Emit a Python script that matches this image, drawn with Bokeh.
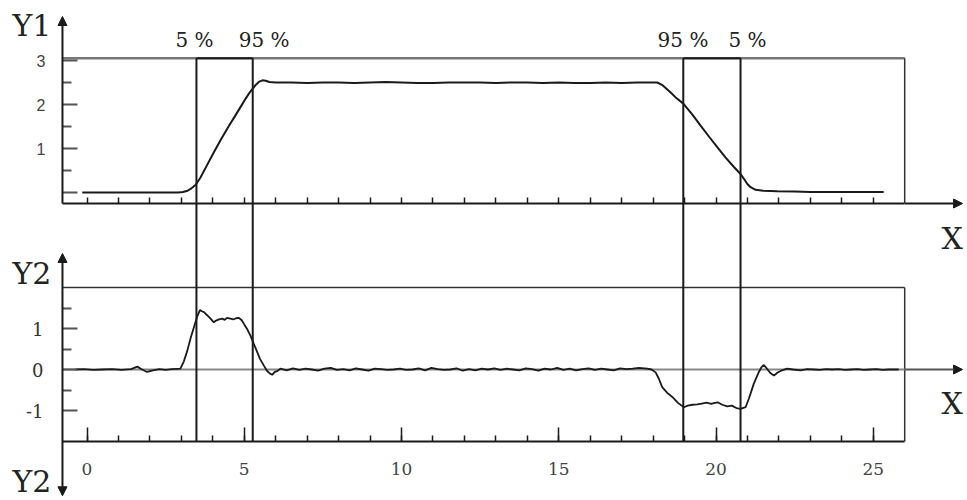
from bokeh.plotting import figure
from bokeh.models import (Range1d, LinearAxis, FixedTicker, Arrow, NormalHead, Label,
                          CustomJSTickFormatter)
from bokeh.embed import file_html
from bokeh.resources import INLINE

# ---------------- data ----------------
x_major_ticks = [0, 5, 10, 15, 20, 25]
x_all_ticks = list(range(0, 26))
x_tick_labels = ["0", "5", "10", "15", "20", "25"]

y1_ticks = [0, 1, 2, 3]
y1_minor = [0.5, 1.5, 2.5]
y1_tick_labels = ["", "1", "2", "3"]
y2_ticks = [-1, 0, 1]
y2_minor = [-0.5, 0.5, 1.5]
y2_tick_labels = ["-1", "0", "1"]

x_end = 26.0          # right edge of both boxes
y1_box_top = 3.05     # top edge of upper box
y2_box_top = 2.0      # top edge of lower box

thresholds_x = [3.48, 5.27, 18.96, 20.78]
threshold_labels = ["5 %", "95 %", "95 %", "5 %"]
threshold_label_x = [3.42, 5.63, 18.95, 21.0]

y1_x = [-0.15, 1.0, 2.0, 2.9, 3.05, 3.2, 3.33, 3.45, 3.6, 3.8, 4.0, 4.24, 4.5, 4.7, 4.88,
        5.05, 5.17, 5.27, 5.37, 5.48, 5.58, 5.68, 5.8, 6.0, 6.5, 7.0, 7.5, 8.0, 8.5, 9.0,
        9.5, 10.0, 10.5, 11.0, 11.5, 12.0, 12.5, 13.0, 13.5, 14.0, 14.5, 15.0, 15.5, 16.0,
        16.5, 17.0, 17.5, 17.9, 18.13, 18.3, 18.55, 18.75, 18.96, 19.25, 19.51, 19.8,
        20.04, 20.3, 20.57, 20.78, 20.9, 20.99, 21.1, 21.26, 21.5, 21.95, 22.5, 23.0,
        24.0, 25.33]
y1_v = [0.0, 0.0, 0.0, 0.0, 0.01, 0.04, 0.1, 0.17, 0.33, 0.6, 0.87, 1.18, 1.5, 1.73, 1.94,
        2.14, 2.27, 2.36, 2.45, 2.52, 2.55, 2.54, 2.51, 2.50, 2.50, 2.49, 2.50, 2.50, 2.49,
        2.50, 2.51, 2.50, 2.49, 2.49, 2.50, 2.50, 2.50, 2.49, 2.50, 2.50, 2.49, 2.50, 2.49,
        2.49, 2.50, 2.49, 2.50, 2.50, 2.50, 2.44, 2.28, 2.14, 2.02, 1.77, 1.52, 1.25,
        1.03, 0.8, 0.58, 0.42, 0.3, 0.2, 0.12, 0.06, 0.04, 0.03, 0.02, 0.01, 0.01, 0.01]

y2_x = [-0.37, -0.1, 0.2, 0.5, 0.8, 1.1, 1.4, 1.6, 1.75, 1.91, 2.1, 2.3, 2.5, 2.7, 2.97,
        3.08, 3.19, 3.3, 3.4, 3.5, 3.59, 3.65, 3.72, 3.77, 3.85, 3.93, 4.03, 4.12, 4.2,
        4.3, 4.38, 4.45, 4.56, 4.65, 4.74, 4.83, 4.92, 5.0, 5.09, 5.2, 5.3, 5.4, 5.5,
        5.62, 5.72, 5.82, 5.89, 5.97, 6.05, 6.15,
        6.35, 6.55, 6.75, 6.95, 7.15, 7.35, 7.55, 7.75, 7.95, 8.15, 8.35, 8.55, 8.75,
        8.95, 9.15, 9.35, 9.55, 9.75, 9.95, 10.15, 10.35, 10.55, 10.75, 10.95, 11.15,
        11.35, 11.55, 11.75, 11.95, 12.15, 12.35, 12.55, 12.75, 12.95, 13.15, 13.35,
        13.55, 13.75, 13.95, 14.15, 14.35, 14.55, 14.75, 14.95, 15.15, 15.35, 15.55,
        15.75, 15.95, 16.15, 16.35, 16.55, 16.75, 16.95, 17.15, 17.35, 17.55, 17.81,
        17.95, 18.08, 18.18, 18.29, 18.45, 18.61, 18.8, 18.98, 19.1, 19.25, 19.4, 19.55,
        19.7, 19.85, 19.93, 20.05, 20.2, 20.36, 20.5, 20.65, 20.78, 20.94, 21.05, 21.2,
        21.35, 21.45, 21.52, 21.62, 21.72, 21.84, 21.95, 22.1, 22.26, 22.45, 22.69, 22.9,
        23.1, 23.3, 23.5, 23.7, 23.9, 24.1, 24.3, 24.5, 24.7, 24.9, 25.1, 25.3, 25.5,
        25.81]
y2_v = [0.00, 0.01, -0.01, 0.00, 0.01, -0.01, 0.01, 0.07, 0.00, -0.06, -0.02, 0.01, -0.01,
        0.01, 0.02, 0.2, 0.46, 0.78, 1.03, 1.28, 1.45, 1.42, 1.40, 1.36, 1.30, 1.24, 1.15,
        1.20, 1.22, 1.24, 1.21, 1.26, 1.24, 1.22, 1.25, 1.26, 1.20, 1.10, 0.99, 0.82, 0.63,
        0.45, 0.26, 0.10, -0.03, -0.10, -0.13, -0.06, -0.04, 0.02,
        -0.02, 0.03, -0.01, 0.02, 0.00, -0.03, 0.02, 0.04, -0.01, 0.01, -0.02, 0.03, 0.00,
        -0.03, 0.02, 0.01, -0.01, 0.00, 0.02, -0.01, 0.00, 0.03, -0.02, 0.04, 0.01,
        -0.01, 0.00, 0.03, -0.03, 0.01, -0.02, 0.02, 0.00, 0.03, -0.01, 0.02,
        0.00, -0.02, 0.03, 0.01, -0.03, 0.02, 0.00, 0.04, -0.01, 0.02, -0.02,
        0.01, 0.03, -0.01, 0.02, 0.00, -0.02, 0.03, 0.01, 0.02, 0.04, 0.02,
        0.00, -0.07, -0.22, -0.43, -0.57, -0.67, -0.82, -0.92, -0.88, -0.86, -0.85, -0.83,
        -0.81, -0.84, -0.82, -0.80, -0.86, -0.90, -0.88, -0.94, -0.96, -0.92, -0.70, -0.35,
        -0.08, 0.06, 0.11, 0.02, -0.08, -0.15, -0.08, -0.02, 0.02, 0.00, -0.02, 0.01,
        0.00, -0.01, 0.01, 0.00, 0.01, -0.01, 0.00, 0.01, -0.01, 0.00, 0.01, -0.01, 0.00,
        0.00]

# ---------------- geometry ----------------
W, H = 967, 500
X0_PX, XPX = 86.5, 31.45          # px of x=0 from frame left, px per x unit
Y1_ZERO_PX, Y1PX = 192.0, 44.0     # upper panel
Y2_ZERO_PX, Y2PX = 369.0, 41.0     # lower panel

x_range = Range1d(-X0_PX / XPX, (W - X0_PX) / XPX)
y1_range = Range1d((Y1_ZERO_PX - H) / Y1PX, Y1_ZERO_PX / Y1PX)
y2_range = Range1d((Y2_ZERO_PX - H) / Y2PX, Y2_ZERO_PX / Y2PX)


def y2_to_y1(v):
    return (Y1_ZERO_PX - (Y2_ZERO_PX - v * Y2PX)) / Y1PX


YAXIS_X = -0.78       # x position of the vertical axes
Y1_XAXIS = -0.25      # y1 position of upper x axis
Y2_XAXIS = -1.756     # y2 position of lower x axis
ARROW_X1 = 27.84

SERIF = "DejaVu Serif"
SANS = "Liberation Sans"
INK = "#1a1a1a"

p = figure(width=W, height=H, x_range=x_range, y_range=y1_range,
           output_backend="svg", toolbar_location=None,
           x_axis_type=None, y_axis_type=None, min_border=0)
p.extra_y_ranges = {"y2": y2_range}
p.outline_line_color = None
p.background_fill_color = "white"
p.border_fill_color = "white"

empty = CustomJSTickFormatter(code="return ''")

# upper y axis
ay1 = LinearAxis(fixed_location=YAXIS_X, bounds=(0, 3),
                 ticker=FixedTicker(ticks=y1_ticks, minor_ticks=y1_minor),
                 major_label_overrides={t: l for t, l in zip(y1_ticks, y1_tick_labels)},
                 axis_line_color=None,
                 major_tick_in=15, major_tick_out=0, minor_tick_in=9, minor_tick_out=0,
                 major_tick_line_color="#555", major_tick_line_width=2,
                 minor_tick_line_color="#555", minor_tick_line_width=2,
                 major_label_standoff=17,
                 major_label_text_font=SANS, major_label_text_font_size="16px",
                 major_label_text_color="#444")
p.add_layout(ay1, "left")

# upper x axis (ticks only)
ax1 = LinearAxis(fixed_location=Y1_XAXIS, bounds=(YAXIS_X, x_end),
                 ticker=FixedTicker(ticks=x_all_ticks, minor_ticks=[]),
                 formatter=empty,
                 axis_line_color=INK, axis_line_width=2,
                 major_tick_in=6, major_tick_out=0,
                 major_tick_line_color=INK, major_tick_line_width=1.5,
                 minor_tick_line_color=None)
p.add_layout(ax1, "below")

# lower y axis
ay2 = LinearAxis(y_range_name="y2", fixed_location=YAXIS_X, bounds=(-1, 1.5),
                 ticker=FixedTicker(ticks=y2_ticks, minor_ticks=y2_minor),
                 major_label_overrides={t: l for t, l in zip(y2_ticks, y2_tick_labels)},
                 axis_line_color=None,
                 major_tick_in=15, major_tick_out=0, minor_tick_in=9, minor_tick_out=0,
                 major_tick_line_color="#555", major_tick_line_width=2,
                 minor_tick_line_color="#555", minor_tick_line_width=2,
                 major_label_standoff=19,
                 major_label_text_font=SERIF, major_label_text_font_size="18px",
                 major_label_text_color="#333")
p.add_layout(ay2, "left")

# lower x axis
ax2 = LinearAxis(y_range_name="y2", fixed_location=Y2_XAXIS, bounds=(YAXIS_X, x_end),
                 ticker=FixedTicker(ticks=x_major_ticks, minor_ticks=x_all_ticks),
                 major_label_overrides={t: l for t, l in zip(x_major_ticks, x_tick_labels)},
                 axis_line_color=INK, axis_line_width=2,
                 major_tick_in=14, major_tick_out=0, minor_tick_in=6, minor_tick_out=0,
                 major_tick_line_color=INK, major_tick_line_width=1.5,
                 minor_tick_line_color=INK, minor_tick_line_width=1.5,
                 major_label_standoff=22,
                 major_label_text_font=SERIF, major_label_text_font_size="17px",
                 major_label_text_color="#444")
p.add_layout(ax2, "below")

# boxes
p.segment(x0=[YAXIS_X], y0=[y1_box_top], x1=[x_end], y1=[y1_box_top],
          line_color="#777", line_width=2.5)
p.segment(x0=[x_end], y0=[y1_box_top], x1=[x_end], y1=[Y1_XAXIS],
          line_color="#333", line_width=1.5)
p.segment(x0=[YAXIS_X], y0=[y2_box_top], x1=[x_end], y1=[y2_box_top],
          line_color="#333", line_width=1.5, y_range_name="y2")
p.segment(x0=[x_end], y0=[y2_box_top], x1=[x_end], y1=[Y2_XAXIS],
          line_color="#333", line_width=1.5, y_range_name="y2")
# zero line of lower panel
p.segment(x0=[YAXIS_X], y0=[0], x1=[x_end], y1=[0],
          line_color="#888", line_width=2, y_range_name="y2")

# threshold verticals spanning both panels
y_bottom = y2_to_y1(Y2_XAXIS)
p.segment(x0=thresholds_x, y0=[y1_box_top] * 4, x1=thresholds_x, y1=[y_bottom] * 4,
          line_color=INK, line_width=2)
p.segment(x0=thresholds_x[0::2], y0=[y1_box_top] * 2, x1=thresholds_x[1::2],
          y1=[y1_box_top] * 2, line_color=INK, line_width=2)

# curves
p.line(y1_x, y1_v, line_color=INK, line_width=2)
p.line(y2_x, y2_v, line_color=INK, line_width=1.8, y_range_name="y2")

# arrows
def head(c):
    return NormalHead(size=9, fill_color=c, line_color=c, line_width=1)

p.add_layout(Arrow(end=head(INK), x_start=YAXIS_X, y_start=Y1_XAXIS, x_end=YAXIS_X,
                   y_end=4.0, line_color=INK, line_width=2))
p.add_layout(Arrow(end=head(INK), x_start=x_end, y_start=Y1_XAXIS, x_end=ARROW_X1,
                   y_end=Y1_XAXIS, line_color=INK, line_width=2))
p.add_layout(Arrow(start=head(INK), end=head(INK), x_start=YAXIS_X, y_start=-3.08,
                   x_end=YAXIS_X, y_end=2.83, line_color=INK, line_width=2,
                   y_range_name="y2"))
p.add_layout(Arrow(end=head(INK), x_start=x_end, y_start=0, x_end=ARROW_X1,
                   y_end=0, line_color="#555", line_width=2, y_range_name="y2"))

# labels
def lab(text, x, y, align="left", size="30px", rng="default", base="middle"):
    p.add_layout(Label(x=x, y=y, text=text, text_font=SERIF, text_font_size=size,
                       text_color="#222", text_align=align, text_baseline=base,
                       y_range_name=rng))

lab("Y1", -2.37, 3.8)
lab("X", 27.85, -1.045, align="right")
lab("Y2", -2.37, 2.35, rng="y2")
lab("Y2", -2.37, -2.74, rng="y2")
lab("X", 27.85, -0.84, align="right", rng="y2")
for t, x in zip(threshold_labels, threshold_label_x):
    lab(t, x, 3.455, align="center", size="20px", base="middle")

open("out.html", "w").write(file_html(p, INLINE))
